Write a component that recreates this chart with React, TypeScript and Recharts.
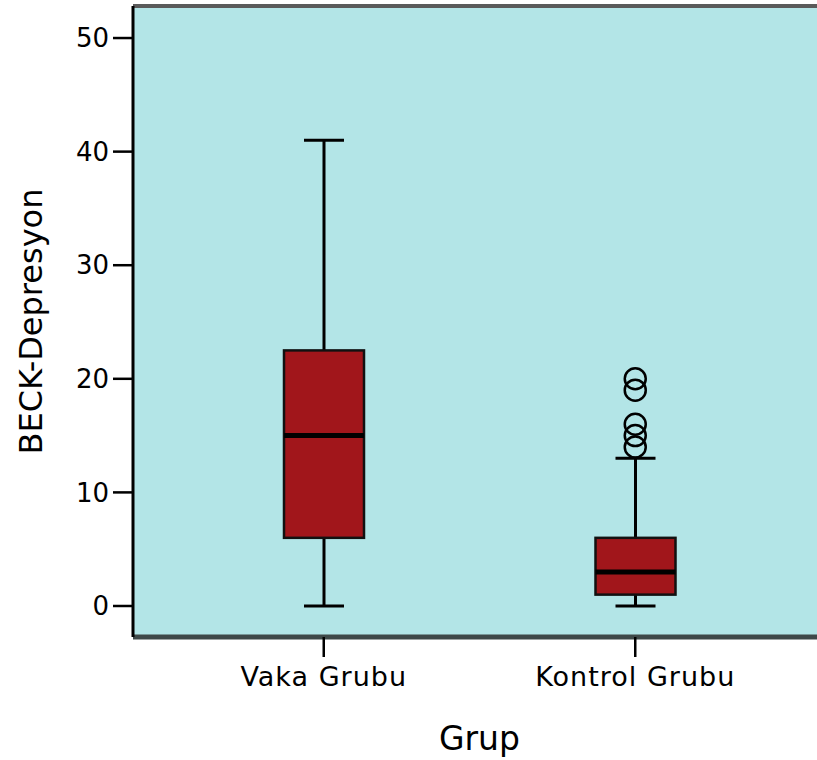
import React from "react"
import { Bar, CartesianGrid, ComposedChart, Line, ReferenceLine, XAxis, YAxis } from "recharts"

const groups = ["Vaka Grubu", "Kontrol Grubu"]
const mins = [0, 0]
const q1s = [6, 1]
const medians = [15, 3]
const q3s = [22.5, 6]
const maxs = [41, 13]
// outliers per group (only Kontrol Grubu has them)
const outliers = [[], [14, 15, 16, 19, 20]]
const yTicks = [0, 10, 20, 30, 40, 50]

const data = groups.map((name, i) => {
  const row: any = { name, min: mins[i], q1: q1s[i], median: medians[i], q3: q3s[i], max: maxs[i] }
  outliers[i].forEach((v, j) => {
    row["o" + j] = v
  })
  return row
})

const outlierKeys = [0, 1, 2, 3, 4].map((j) => "o" + j)

const font = "'DejaVu Sans', sans-serif"

function BoxShape(props: any) {
  const { x, y, width, height, payload } = props
  const { min, q1, median, q3, max } = payload
  const ppu = height / (max - min)
  const py = (v: number) => y + height - (v - min) * ppu
  const cx = x + width / 2
  const cap = 20
  return (
    <g>
      <line x1={cx} x2={cx} y1={py(max)} y2={py(q3)} stroke="#000" strokeWidth={3} />
      <line x1={cx} x2={cx} y1={py(q1)} y2={py(min)} stroke="#000" strokeWidth={3} />
      <line x1={cx - cap} x2={cx + cap} y1={py(max)} y2={py(max)} stroke="#000" strokeWidth={3} />
      <line x1={cx - cap} x2={cx + cap} y1={py(min)} y2={py(min)} stroke="#000" strokeWidth={3} />
      <rect x={x} y={py(q3)} width={width} height={py(q1) - py(q3)} fill="#a1161b" stroke="#111" strokeWidth={2.5} />
      <line x1={x} x2={x + width} y1={py(median)} y2={py(median)} stroke="#000" strokeWidth={5} />
    </g>
  )
}

function OutlierDot(props: any) {
  const { cx, cy, value, key } = props
  if (value == null || cy == null) return <g key={key} />
  return <circle key={key} cx={cx} cy={cy} r={10.5} fill="none" stroke="#000" strokeWidth={2.5} />
}

export default function App() {
  return (
    <div style={{ position: "absolute", left: 0, top: 0, width: 817, height: 760, overflow: "hidden", background: "#fff" }}>
      <ComposedChart width={840} height={760} data={data} margin={{ top: 6, right: 14, left: 0, bottom: 0 }}>
        <CartesianGrid fill="#b3e5e7" stroke="none" />
        <XAxis
          dataKey="name"
          height={123}
          padding={{ left: 35, right: 35 }}
          axisLine={{ stroke: "#3e4848", strokeWidth: 5 }}
          tickLine={{ stroke: "#000", strokeWidth: 2.5 }}
          tickSize={20}
          tickMargin={10}
          tick={{ fontSize: 27, fill: "#000", fontFamily: font, letterSpacing: 1 }}
          label={{ value: "Grup", position: "insideBottom", offset: 10, fontSize: 33, fill: "#000", fontFamily: font }}
        />
        <YAxis
          width={133}
          domain={[-2.73, 52.82]}
          ticks={yTicks}
          allowDataOverflow
          axisLine={{ stroke: "#000", strokeWidth: 3 }}
          tickLine={{ stroke: "#000", strokeWidth: 2.5 }}
          tickSize={20}
          tickMargin={4}
          tick={{ fontSize: 26, fill: "#000", fontFamily: font }}
          label={{ value: "BECK-Depresyon", angle: -90, position: "center", dx: -36, fontSize: 32, fill: "#000", fontFamily: font }}
        />
        <ReferenceLine y={52.82} stroke="#5a5a5a" strokeWidth={4} ifOverflow="extendDomain" />
        <Bar dataKey={(d: any) => [d.min, d.max]} barSize={80} shape={<BoxShape />} isAnimationActive={false} />
        {outlierKeys.map((k) => (
          <Line
            key={k}
            dataKey={k}
            stroke="none"
            dot={<OutlierDot />}
            activeDot={false}
            isAnimationActive={false}
          />
        ))}
      </ComposedChart>
    </div>
  )
}
